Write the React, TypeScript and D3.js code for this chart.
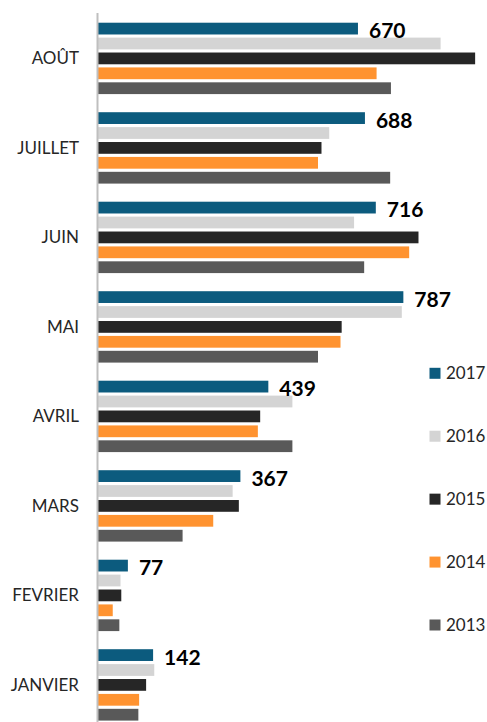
import React from "react";
import * as d3 from "d3";

const categories = ["AOÛT", "JUILLET", "JUIN", "MAI", "AVRIL", "MARS", "FEVRIER", "JANVIER"];
const years = ["2017", "2016", "2015", "2014", "2013"];
const values2017 = [670, 688, 716, 787, 439, 367, 77, 142];
const values2016 = [883, 596, 660, 783, 501, 347, 58, 145];
const values2015 = [972, 576, 826, 628, 418, 363, 60, 124];
const values2014 = [718, 567, 802, 625, 412, 297, 38, 106];
const values2013 = [755, 753, 686, 567, 501, 218, 55, 104];
const seriesValues = [values2017, values2016, values2015, values2014, values2013];
const colors = ["#0C5B7E", "#D4D4D4", "#262626", "#FF9330", "#595959"];

const W = 487;
const H = 722;
const FONT = "Lato, 'Open Sans', sans-serif";

export default function App() {
  const x = d3.scaleLinear().domain([0, 1000]).range([98, 98 + 388]);
  const y0 = d3
    .scaleBand<string>()
    .domain(categories)
    .range([13.65, 13.65 + 8 * 89.5])
    .paddingInner(0)
    .paddingOuter(0);
  const y1 = d3
    .scaleBand<string>()
    .domain(years)
    .range([0, y0.bandwidth()])
    .paddingInner(0.21)
    .paddingOuter(0.608);

  const legendY = d3.scaleLinear().domain([0, 4]).range([373.3, 625]);

  return (
    <svg
      width={W}
      height={H}
      style={{ position: "absolute", left: 0, top: 0, background: "#fff" }}
      fontFamily={FONT}
    >
      {categories.map((cat, ci) => {
        const gy = y0(cat)!;
        return (
          <g key={cat}>
            {years.map((yr, si) => (
              <rect
                key={yr}
                x={x(0)}
                y={gy + y1(yr)!}
                width={x(seriesValues[si][ci]) - x(0)}
                height={y1.bandwidth()}
                fill={colors[si]}
              />
            ))}
            <text
              x={x(values2017[ci]) + 11}
              y={gy + y1("2017")! + 15.6}
              fontSize={21}
              fontWeight="bold"
              fill="#000"
            >
              {values2017[ci]}
            </text>
            <text
              x={79}
              y={gy + y0.bandwidth() / 2 + 6}
              textAnchor="end"
              fontSize={17}
              fill="#262626"
            >
              {cat}
            </text>
          </g>
        );
      })}
      <line x1={97.5} x2={97.5} y1={13} y2={H} stroke="#BFBFBF" strokeWidth={2} />
      {years.map((yr, i) => (
        <g key={yr}>
          <rect x={429.5} y={legendY(i) - 5.5} width={11} height={11} fill={colors[i]} />
          <text x={446} y={legendY(i) + 6} fontSize={17} fill="#262626">
            {yr}
          </text>
        </g>
      ))}
    </svg>
  );
}
